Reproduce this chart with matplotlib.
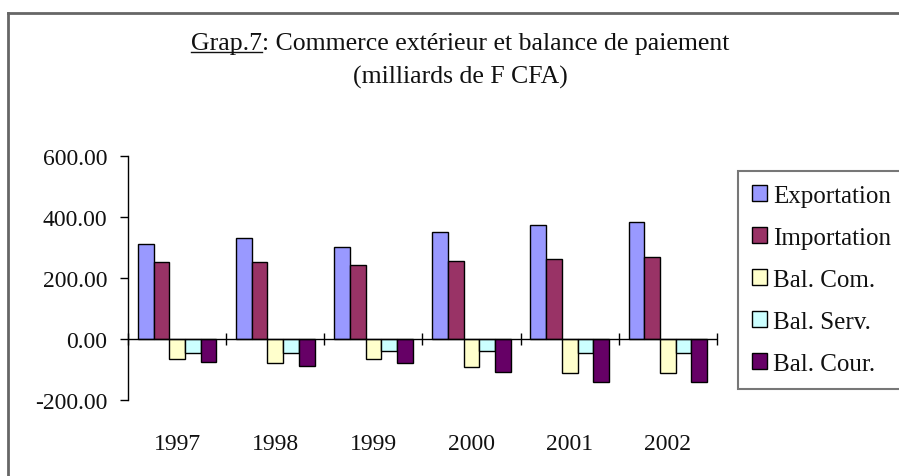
import numpy as np
import matplotlib
matplotlib.use("Agg")
import matplotlib.pyplot as plt
from matplotlib.lines import Line2D

plt.rcParams['font.family'] = ['Liberation Serif', 'DejaVu Serif']

years = ['1997', '1998', '1999', '2000', '2001', '2002']
series = ['Exportation', 'Importation', 'Bal. Com.', 'Bal. Serv.', 'Bal. Cour.']
exportation = [311, 331, 303, 350, 375, 382]
importation = [251, 252, 244, 257, 262, 270]
bal_com = [-66, -79, -66, -92, -111, -111]
bal_serv = [-46, -46, -38, -38, -46, -46]
bal_cour = [-74, -87, -79, -107, -140, -140]
colors = ['#9999FF', '#993366', '#FFFFCC', '#CCFFFF', '#660066']

values = [exportation, importation, bal_com, bal_serv, bal_cour]

W, H = 899, 477
txt = '#111111'
fig = plt.figure(figsize=(W / 100, H / 100), dpi=100)
ax = fig.add_axes([128 / W, 1 - 401 / H, 589 / W, 244 / H])

x = np.arange(len(years))
bw = 0.16
for k, (name, vals) in enumerate(zip(series, values)):
    ax.bar(x + (k - 2) * bw, vals, bw, color=colors[k], edgecolor='black',
           linewidth=1.0, label=name, zorder=2)

ax.set_xlim(-0.5, len(years) - 0.5)
ax.set_ylim(-200, 600)
ax.set_yticks(np.arange(-200, 601, 200))
ax.yaxis.set_major_formatter(matplotlib.ticker.FormatStrFormatter('%.2f'))
ax.tick_params(axis='y', direction='out', length=6, width=1, pad=9,
               labelsize=17, labelcolor=txt)
ax.set_xticks(x)
ax.set_xticklabels(years)
ax.tick_params(axis='x', length=0, pad=24, labelsize=17, labelcolor=txt)
for s in ['top', 'right', 'bottom']:
    ax.spines[s].set_visible(False)
ax.spines['left'].set_linewidth(1.0)

# category axis at zero with crossing tick marks
ax.axhline(0, color='black', lw=1.0, zorder=3)
bounds = np.arange(len(years) + 1) - 0.5
ax.plot(bounds, np.zeros(len(bounds)), ls='none', marker='|', markersize=9,
        mew=1.0, color='black', zorder=3, clip_on=False)

leg = ax.legend(loc='upper left', bbox_to_anchor=(738 / W, 1 - 172 / H),
                bbox_transform=fig.transFigure, fontsize=18, frameon=True,
                fancybox=False, edgecolor='#555555', handlelength=0.6,
                handleheight=0.6, handletextpad=0.25, labelspacing=0.8,
                borderpad=0.55, borderaxespad=0)
leg.get_frame().set_linewidth(1.5)
for t in leg.get_texts():
    t.set_color(txt)

# title
t1 = fig.text(460 / W, 1 - 44 / H, 'Grap.7: Commerce extérieur et balance de paiement',
              ha='center', va='center', fontsize=18.5, color=txt)
fig.text(460 / W, 1 - 77 / H, '(milliards de F CFA)', ha='center', va='center',
         fontsize=18.5, color=txt)
fig.canvas.draw()
r = fig.canvas.get_renderer()
bb = t1.get_window_extent(r)
tmp = fig.text(0, 0, 'Grap.7', fontsize=18.5)
wb = tmp.get_window_extent(r)
tmp.remove()
fig.add_artist(Line2D([bb.x0 / W, (bb.x0 + wb.width) / W],
                      [(bb.y0 + 2) / H, (bb.y0 + 2) / H], color=txt, lw=1))

# outer chart frame
fig.add_artist(Line2D([8 / W, 8 / W], [0, 1 - 14 / H], color='#666666', lw=2))
fig.add_artist(Line2D([8 / W, 1], [1 - 14 / H, 1 - 14 / H], color='#666666', lw=2))

fig.savefig('out.png', dpi=100)
